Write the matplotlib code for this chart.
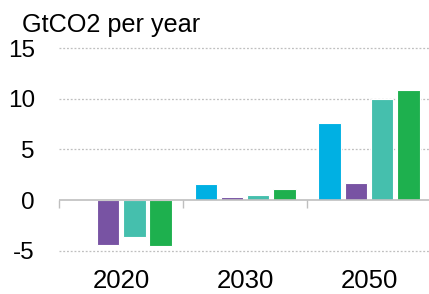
import matplotlib
matplotlib.use("Agg")
import matplotlib.pyplot as plt
import numpy as np

plt.rcParams['font.family'] = ['Liberation Sans', 'DejaVu Sans']

categories = ["2020", "2030", "2050"]
series_a = [0.05, 1.6, 7.6]     # blue
series_b = [-4.45, 0.3, 1.7]    # purple
series_c = [-3.65, 0.5, 10.0]   # teal
series_d = [-4.55, 1.1, 10.85]  # green
y_ticks = [-5, 0, 5, 10, 15]
y_label = "GtCO2 per year"

colors = ["#00B0E3", "#7853A3", "#45BFAD", "#1EB04E"]
series = [series_a, series_b, series_c, series_d]

W, H = 429, 294
fig = plt.figure(figsize=(W / 100, H / 100), dpi=100)
ax = fig.add_axes([59.3 / W, 1 - 250.7 / H, (431 - 59.3) / W, (250.7 - 48.3) / H])

x = np.arange(len(categories))
pitch = 0.212
width = 0.18
for i, (vals, c) in enumerate(zip(series, colors)):
    ax.bar(x + (i - 1.5) * pitch, vals, width=width, color=c,
           edgecolor="white", linewidth=0.8, zorder=3)

ax.set_xlim(-0.5, len(categories) - 0.5)
ax.set_ylim(-5, 15)
ax.set_yticks(y_ticks)
ax.set_yticklabels([str(t) for t in y_ticks])
for t in y_ticks:
    if t != 0:
        ax.axhline(t, color="#BFBFBF", linestyle=(0, (1.5, 1.5)), linewidth=0.9,
                   zorder=1, clip_on=False)
ax.axhline(0, color="#BFBFBF", linewidth=1.2, zorder=4)
for b in np.arange(len(categories)) - 0.5:
    ax.vlines(b, -0.8, 0, color="#BFBFBF", linewidth=1.0, zorder=4, clip_on=False)

ax.set_xticks(x)
ax.set_xticklabels(categories)
ax.tick_params(axis="x", length=0, pad=13.5, labelsize=18.5, colors="black")
ax.tick_params(axis="y", length=0, pad=17.5, labelsize=17.5, colors="black")
for lbl in ax.get_yticklabels():
    lbl.set_horizontalalignment("right")
for s in ax.spines.values():
    s.set_visible(False)

fig.text(22 / W, 1 - 13 / H, y_label, ha="left", va="top", fontsize=18.2)

fig.savefig("out.png", dpi=100)
